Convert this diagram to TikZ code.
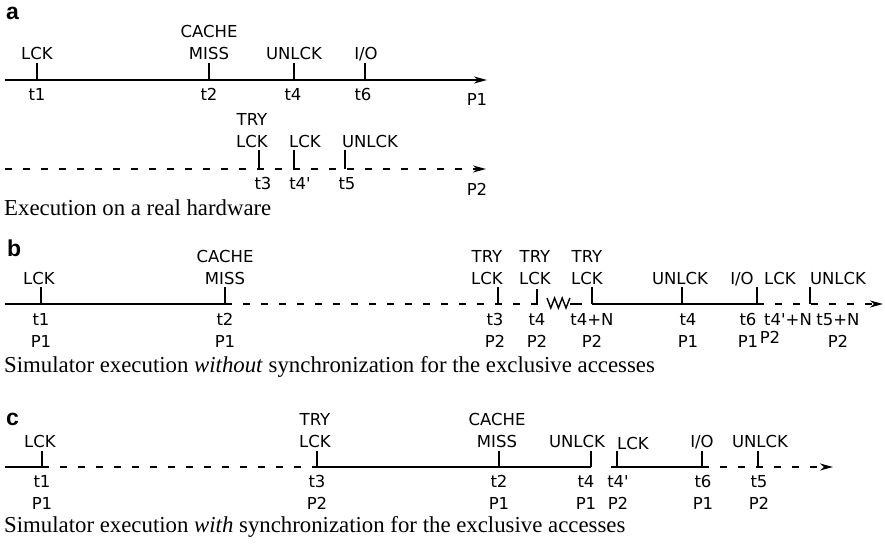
\documentclass[tikz,border=0pt]{standalone}
\usepackage{fontspec}
\setmainfont{Liberation Serif}
\newfontfamily\lblfont{DejaVu Sans}
\newfontfamily\tagfont{Liberation Sans}
\usetikzlibrary{arrows.meta}

\begin{document}
\begin{tikzpicture}[x=1pt, y=1pt,
	axis/.style={line width=1.6pt},
	gap/.style={line width=1.6pt, dash pattern=on 7pt off 11pt},
	tick/.style={line width=1.6pt},
	ev/.style={font=\lblfont\fontsize{16.5}{22}\selectfont, align=center, inner sep=0pt},
	up/.style={ev, anchor=south, text depth=0pt},
	dn/.style={ev, anchor=north},
	tag/.style={font=\tagfont\bfseries\fontsize{23}{23}\selectfont, anchor=base west, inner sep=0pt},
	caption/.style={font=\fontsize{22.8}{22.8}\selectfont, anchor=base west, inner sep=0pt},
	arr/.style={-{Stealth[length=13pt, width=7pt, inset=4pt]}}]
	\useasboundingbox (0,0) rectangle (885,-545);

	% (a) 真实硬件上的执行
	\node[tag] (ta) at (6,-20) {a};
	\coordinate (a0) at (5,-80);   \coordinate (a1) at (37,-80);  \coordinate (a2) at (209,-80);
	\coordinate (a4) at (294,-80); \coordinate (a6) at (365,-80); \coordinate (aE) at (487,-80);
	\draw[axis, arr] (a0) -- (aE);
	\draw[tick] (a1) -- ++(0,17);  \draw[tick] (a2) -- ++(0,17);
	\draw[tick] (a4) -- ++(0,17);  \draw[tick] (a6) -- ++(0,17);
	\node[up] (aL1) at (37,-60) {LCK};
	\node[up] (aL2) at (209,-60) {CACHE\\MISS};
	\node[up] (aL4) at (294,-60) {UNLCK};
	\node[up] (aL6) at (366,-60) {I/O};
	\node[dn] (aT1) at (37,-88) {t1};
	\node[dn] (aT2) at (209,-88) {t2};
	\node[dn] (aT4) at (293,-88) {t4};
	\node[dn] (aT6) at (363,-88) {t6};
	\node[dn] (aP1) at (477,-93) {P1};

	\coordinate (c0) at (5,-169);   \coordinate (c3) at (259,-169);
	\coordinate (c4) at (294,-169); \coordinate (c5) at (345,-169); \coordinate (cE) at (486,-169);
	\draw[gap, arr] (c0) -- (cE);
	\draw[tick] (c3) -- ++(0,19);  \draw[tick] (c4) -- ++(0,19);  \draw[tick] (c5) -- ++(0,19);
	\node[up] (cL3) at (252,-148) {TRY\\LCK};
	\node[up] (cL4) at (305,-148) {LCK};
	\node[up] (cL5) at (370,-148) {UNLCK};
	\node[dn] (cT3) at (263,-177) {t3};
	\node[dn] (cT4) at (300,-177) {t4\textquotesingle};
	\node[dn] (cT5) at (347,-177) {t5};
	\node[dn] (cP2) at (477,-183) {P2};
	\node[caption] (capA) at (4,-215) {Execution on a real hardware};

	% (b) 无同步的模拟执行
	\node[tag] (tb) at (7,-256) {b};
	\coordinate (b0) at (5,-304);    \coordinate (b1) at (41,-304);   \coordinate (b2) at (225,-304);
	\coordinate (b3) at (498,-304);  \coordinate (b4) at (537,-304);  \coordinate (bw) at (547,-304);
	\coordinate (bx) at (570,-304);  \coordinate (by) at (582,-304);  \coordinate (bN) at (592,-304);
	\coordinate (bU) at (682,-304);  \coordinate (b6) at (757,-304);  \coordinate (b5) at (810,-304);
	\coordinate (bE) at (883,-304);
	\draw[axis] (b0) -- (b2);
	\draw[gap] (b2) -- (bw);
	\draw[line width=1.4pt, line join=miter] (bw) ++(0,6) -- ++(3.8,-10) -- ++(3.8,10) -- ++(3.8,-10)
		-- ++(3.8,10) -- ++(3.8,-10) -- ++(3.9,10);
	\draw[axis] (bx) -- (by);
	\draw[axis] (bN) -- (b6);
	\draw[gap, arr] (b6) -- (bE);
	\draw[tick] (b1) -- ++(0,17);  \draw[tick] (b2) -- ++(0,17);  \draw[tick] (b3) -- ++(0,17);
	\draw[tick] (b4) -- ++(0,15);  \draw[tick] (bN) -- ++(0,17);  \draw[tick] (bU) -- ++(0,17);
	\draw[tick] (b6) -- ++(0,17);  \draw[tick] (b5) -- ++(0,17);
	\node[up] (bL1) at (39,-285) {LCK};
	\node[up] (bL2) at (225,-285) {CACHE\\MISS};
	\node[up] (bL3) at (487,-285) {TRY\\LCK};
	\node[up] (bL4) at (535,-285) {TRY\\LCK};
	\node[up] (bLN) at (587,-285) {TRY\\LCK};
	\node[up] (bLU) at (680,-285) {UNLCK};
	\node[up] (bL6) at (742,-285) {I/O};
	\node[up] (bLQ) at (780,-285) {LCK};
	\node[up] (bL5) at (838,-285) {UNLCK};
	\node[dn] (bT1) at (41,-313) {t1\\P1};
	\node[dn] (bT2) at (225,-313) {t2\\P1};
	\node[dn] (bT3) at (495,-313) {t3\\P2};
	\node[dn] (bT4) at (537,-313) {t4\\P2};
	\node[dn] (bTN) at (592,-313) {t4+N\\P2};
	\node[dn] (bTU) at (688,-313) {t4\\P1};
	\node[dn] (bT6) at (748,-313) {t6\\P1};
	\node[dn] (bTQ) at (788,-313) {t4\textquotesingle+N};
	\node[dn] (bPQ) at (770,-331) {P2};
	\node[dn] (bT5) at (838,-313) {t5+N\\P2};
	\node[caption] (capB) at (4,-372) {Simulator execution \textit{without} synchronization for the exclusive accesses};

	% (c) 有同步的模拟执行
	\node[tag] (tc) at (6,-425) {c};
	\coordinate (d0) at (5,-467);    \coordinate (d1) at (42,-467);   \coordinate (d3) at (317,-467);
	\coordinate (d2) at (499,-467);  \coordinate (d4) at (591,-467);  \coordinate (dq) at (611,-467);
	\coordinate (dQ) at (617,-467);  \coordinate (d6) at (702,-467);  \coordinate (d5) at (758,-467);
	\coordinate (dE) at (833,-467);
	\draw[axis] (d0) -- (d1);
	\draw[gap] (d1) -- (d3);
	\draw[axis] (d3) -- (d4);
	\draw[axis] (dq) -- (dQ);
	\draw[line width=1.2pt] (dQ) -- (d6);
	\draw[gap, arr] (d6) -- (dE);
	\draw[tick] (d1) -- ++(0,16);  \draw[tick] (d3) -- ++(0,16);  \draw[tick] (d2) -- ++(0,16);
	\draw[tick] (d4) -- ++(0,16);  \draw[tick] (dQ) -- ++(0,16);  \draw[tick] (d6) -- ++(0,16);
	\draw[tick] (d5) -- ++(0,16);
	\node[up] (dL1) at (40,-448) {LCK};
	\node[up] (dL3) at (315,-448) {TRY\\LCK};
	\node[up] (dL2) at (497,-448) {CACHE\\MISS};
	\node[up] (dL4) at (577,-448) {UNLCK};
	\node[up] (dLQ) at (633,-450) {LCK};
	\node[up] (dL6) at (702,-448) {I/O};
	\node[up] (dL5) at (760,-448) {UNLCK};
	\node[dn] (dT1) at (42,-475) {t1\\P1};
	\node[dn] (dT3) at (317,-475) {t3\\P2};
	\node[dn] (dT2) at (499,-475) {t2\\P1};
	\node[dn] (dT4) at (586,-475) {t4\\P1};
	\node[dn] (dTQ) at (618,-475) {t4\textquotesingle\\P2};
	\node[dn] (dT6) at (703,-475) {t6\\P1};
	\node[dn] (dT5) at (759,-475) {t5\\P2};
	\node[caption] (capC) at (4,-532) {Simulator execution \textit{with} synchronization for the exclusive accesses};
\end{tikzpicture}
\end{document}
